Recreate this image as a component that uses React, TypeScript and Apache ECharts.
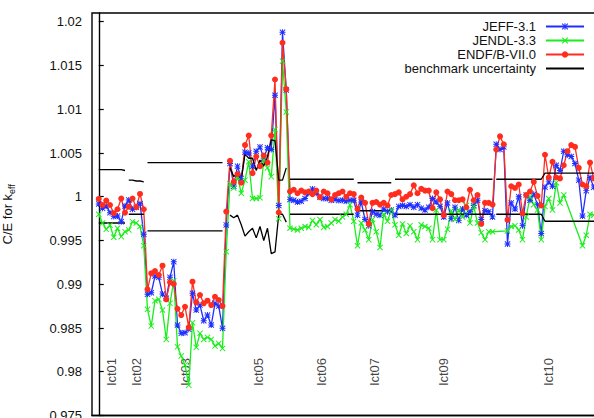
import React, { useEffect, useRef } from "react";
import * as echarts from "echarts";

// Case-by-case C/E values (index = benchmark case number along the x direction)
const jeff: (number | null)[] = [
  // lct01 / lct02
  0.99918, 0.99869, 0.99895, 0.99818, 0.99773, 0.99781, 0.99715, 0.99895, 0.99964, 0.99857, 0.9988, 0.9992, 0.99571,
  // lct03
  0.98885, 0.98903, 0.99094, 0.99079, 0.98888, 0.98839, 0.99079, 0.99258, 0.98534, 0.98439, 0.98446, 0.98485, 0.98896,
  0.98705, 0.98762, 0.98583, 0.98648, 0.98534, 0.98782, 0.98751, 0.98496,
  // single case
  0.99678,
  // lct05
  1.0038, 1.0012, 1.0035, 1.0021, 1.0051, 1.005, 1.0035, 1.0052, 1.0057, 1.0044, 1.0056, 1.0054, 1.0116, 0.999, 1.0188, 1.0122,
  // lct06
  0.9997, 0.9996, 0.9994, 0.9995, 0.9998, 1.0004, 1.0009, 1.0004, 0.99995, 0.9998, 0.9998, 0.9996, 0.9997, 0.99956, 0.9996,
  0.9995, 0.9996, 0.9996,
  // lct07
  0.9979, 0.9994, 0.9974, 0.9967, 0.9983, 0.998, 0.9979, 0.9986, 0.9983, 0.9985,
  // lct09
  0.9979, 0.9989, 0.999, 0.9989, 0.9991, 0.9988, 0.9991, 0.9987, 0.9985, 0.9988, 0.9998, 0.9994, 0.9989, 0.9977, 0.9993,
  0.9975, 0.9988, 0.9973, 0.9986, 0.9979, 0.9983, 0.999, 0.9996, 0.9974, 0.9984, 0.9983, 0.9977,
  // lct10
  1.006, 1.0054, 1.0057, 0.9946, 0.9993, 0.9986, 1.0, 0.9967, 1.0002, 0.9996, 1.0003, 0.9991, 0.9958, 1.0011, 1.0017, 1.0012,
  1.0036, 1.003, 1.0052, 1.0048, 1.0046, 1.0038, 1.0019, 0.9978, 1.0007, 1.0022, 1.0011, 1.0023,
];

const jendl: (number | null)[] = [
  0.998, 0.997, 0.99628, 0.99674, 0.99537, 0.9964, 0.99544, 0.99601, 0.99621, 0.99715, 0.997, 0.9966, 0.99441,
  0.98713, 0.98522, 0.98812, 0.98828, 0.98705, 0.9837, 0.98782, 0.9904, 0.98285, 0.98179, 0.98076, 0.97847, 0.9856,
  0.98279, 0.98439, 0.9837, 0.98393, 0.9837, 0.98293, 0.98324, 0.98267,
  0.99372,
  1.0015, 1.001, 1.0023, 1.0004, 1.0019, 1.004, 0.9998, 0.9998, 0.9999, 1.0042, 1.0033, 1.0023, 1.0077, 0.9975, 1.0155, 1.0097,
  0.9964, 0.9963, 0.9962, 0.9964, 0.9966, 0.9965, 0.9973, 0.9968, 0.9974, 0.9965, 0.9966, 0.997, 0.9974, 0.9972, 0.9977,
  0.998, 0.9991, 0.9972,
  0.9944, 0.997, 0.9962, 0.9951, 0.9974, 0.996, 0.9942, 0.998, 0.9972, 0.9985,
  0.9968, 0.9956, 0.9969, 0.9958, 0.9967, 0.996, 0.9951, 0.9968, 0.9966, 0.9964, 0.9951, 0.9985, 0.9951, 0.9951, 0.9963,
  0.9984, 0.9974, 0.9985, 0.9977, 0.999, 0.997, 0.9989, 0.997, 0.9959, 0.9951, 0.996, 0.996,
  null, null, null, 0.9961, 0.9966, 0.9967, 0.9962, 0.9951, 0.9977, 1.0, 0.9991, 0.9985, 0.9951, 0.9989, 0.9998, 0.9985,
  1.0016, 0.9993, 1.0002, null, null, null, null, 0.9944, 0.9956, 0.998, 0.9979, 0.9975,
];

const endf: (number | null)[] = [
  0.99975, 0.99906, 0.99956, 0.99906, 0.99812, 0.99857, 0.99979, 0.99818, 0.99887, 0.99979, 0.9988, 1.00032, 0.99857,
  0.98942, 0.99125, 0.99151, 0.99106, 0.99212, 0.98828, 0.99022, 0.99003, 0.9872, 0.98648, 0.98743, 0.98507, 0.99029,
  0.98793, 0.98877, 0.98782, 0.98812, 0.98762, 0.98857, 0.9882, 0.98751,
  0.9983,
  1.0041, 1.0017, 1.0026, 1.0016, 1.0059, 1.007, 1.0027, 1.0046, 1.0035, 1.0047, 1.0039, 1.007, 1.0134, 0.9982, 1.0176, 1.0123,
  1.0006, 1.0008, 1.0004, 1.0007, 1.0005, 1.0006, 1.0003, 1.0007, 0.99995, 1.0006, 1.0004, 0.9997, 1.0002, 1.0004, 1.0006,
  1.0, 1.0004, 1.0003,
  0.9986, 0.9999, 0.9993, 0.9969, 0.9993, 0.9994, 0.9991, 0.9993, 0.999, 1.0002,
  1.0003, 1.0005, 0.9997, 1.0, 1.0003, 1.0013, 1.0004, 1.0009, 1.0007, 1.0007, 0.9987, 1.0005, 0.9997, 0.9979, 1.0006,
  1.0003, 0.9996, 0.9996, 0.9997, 0.9988, 1.0008, 0.9996, 1.0002, 0.9969, 0.9993, 0.9993, 0.9991,
  1.0054, 1.0069, 1.006, 0.99735, 1.0012, 1.001, 1.0014, 0.9981, 1.0002, 1.0006, 1.0017, 1.0001, 0.999, 1.0048, 1.0022, 1.004,
  1.0022, 1.0021, 1.0036, 1.0052, 1.0059, 1.0057, 1.0033, 1.0014, 1.0012, 1.0039, 1.0021, 1.0029,
];

// benchmark uncertainty band (upper / lower edge) per case
const benchUpper: (number | null)[] = [
  1.0031, 1.0031, 1.0031, 1.0031, 1.0031, 1.0031, 1.0031, 1.003,
  1.0019, 1.0019, 1.0018, 1.0018, 1.0017,
  1.0039, 1.0039, 1.0039, 1.0039, 1.0039, 1.0039, 1.0039, 1.0039, 1.0039, 1.0039, 1.0039, 1.0039, 1.0039, 1.0039, 1.0039,
  1.0039, 1.0039, 1.0039, 1.0039, 1.0039, 1.0039,
  null,
  1.0033, 1.0023, 1.0027, 1.0019, 1.0049, 1.0044, 1.0044, 1.003, 1.0042, 1.0035, 1.0046, 1.0065, 1.0064, 1.0019, 1.0019, 1.0033,
  1.002, 1.002, 1.002, 1.002, 1.002, 1.002, 1.002, 1.002, 1.002, 1.002, 1.002, 1.002, 1.002, 1.002, 1.002, 1.002, 1.002, 1.002,
  1.0016, 1.0016, 1.0016, 1.0016, 1.0016, 1.0016, 1.0016, 1.0016, 1.0016, 1.0016,
  1.002, 1.002, 1.002, 1.002, 1.002, 1.002, 1.002, 1.002, 1.002, 1.002, 1.002, 1.002, 1.002, 1.002, 1.002, 1.002, 1.002, 1.002,
  1.002, 1.002, 1.002, 1.002, 1.002, 1.002, 1.002, 1.002, 1.002,
  1.002, 1.002, 1.002, 1.002, 1.002, 1.002, 1.002, 1.002, 1.002, 1.002, 1.002, 1.002, 1.002,
  1.0027, 1.0027, 1.0027, 1.0027, 1.0027, 1.0027, 1.0027, 1.0027, 1.0027, 1.0027, 1.0027, 1.0027, 1.0027, 1.0027, 1.0027,
];

const benchLower: (number | null)[] = [
  0.997, 0.997, 0.997, 0.997, 0.997, 0.997, 0.997, 0.997,
  0.998, 0.998, 0.998, 0.998, 0.998,
  0.9961, 0.9961, 0.9961, 0.9961, 0.9961, 0.9961, 0.9961, 0.9961, 0.9961, 0.9961, 0.9961, 0.9961, 0.9961, 0.9961, 0.9961,
  0.9961, 0.9961, 0.9961, 0.9961, 0.9961, 0.9961,
  null,
  0.9979, 0.9976, 0.9979, 0.9968, 0.9955, 0.996, 0.9964, 0.9953, 0.9966, 0.995, 0.9964, 0.9935, 0.9937, 0.998, 0.998, 0.9971,
  0.998, 0.998, 0.998, 0.998, 0.998, 0.998, 0.998, 0.998, 0.998, 0.998, 0.998, 0.998, 0.998, 0.998, 0.998, 0.998, 0.998, 0.998,
  0.9984, 0.9984, 0.9984, 0.9984, 0.9984, 0.9984, 0.9984, 0.9984, 0.9984, 0.9984,
  0.998, 0.998, 0.998, 0.998, 0.998, 0.998, 0.998, 0.998, 0.998, 0.998, 0.998, 0.998, 0.998, 0.998, 0.998, 0.998, 0.998, 0.998,
  0.998, 0.998, 0.998, 0.998, 0.998, 0.998, 0.998, 0.998, 0.998,
  0.998, 0.998, 0.998, 0.998, 0.998, 0.998, 0.998, 0.998, 0.998, 0.998, 0.998, 0.998, 0.998,
  0.9972, 0.9972, 0.9972, 0.9972, 0.9972, 0.9972, 0.9972, 0.9972, 0.9972, 0.9972, 0.9972, 0.9972, 0.9972, 0.9972, 0.9972,
];

// benchmark series groups (first / last case index)
const groupNames = ["lct01", "lct02", "lct03", "", "lct05", "lct06", "lct07", "lct09", "lct10"];
const groupStart = [0, 8, 13, 34, 35, 51, 69, 79, 106];
const groupEnd = [7, 12, 33, 34, 50, 68, 78, 105, 134];
const groupLabelLevel = 0.98;

const seriesNames = ["JEFF-3.1", "JENDL-3.3", "ENDF/B-VII.0", "benchmark uncertainty"];

const yTicksMin = 0.975;
const yTicksMax = 1.021;
const yTickStep = 0.005;

const FONT = "'Liberation Sans', Arial, Helvetica, sans-serif";
const BLUE = "#1f2fff";
const GREEN = "#1aee1a";
const RED = "#ff2d1e";

const asteriskPath =
  "path://M4.2,0H5.8V4.2H10V5.8H5.8V10H4.2V5.8H0V4.2H4.2Z M0,1.1L1.1,0L5,3.9L8.9,0L10,1.1L6.1,5L10,8.9L8.9,10L5,6.1L1.1,10L0,8.9L3.9,5Z";
const crossPath = "path://M0,1.1L1.1,0L5,3.9L8.9,0L10,1.1L6.1,5L10,8.9L8.9,10L5,6.1L1.1,10L0,8.9L3.9,5Z";

function toPoints(values: (number | null)[]) {
  return values.map((v, i) => [i, v]);
}

function bandPoints(values: (number | null)[]) {
  const pts: any[] = [];
  groupStart.forEach((s, g) => {
    for (let i = s; i <= groupEnd[g] && i < values.length; i++) pts.push([i, values[i]]);
    pts.push([groupEnd[g] + 0.5, null]);
  });
  return pts;
}

export default function App() {
  const ref = useRef<HTMLDivElement>(null);
  useEffect(() => {
    if (!ref.current) return;
    const chart = echarts.init(ref.current, undefined, { renderer: "svg" });
    const dataLine = (name: string, values: (number | null)[], color: string, symbol: string, size: number) => ({
      name,
      type: "line",
      data: toPoints(values),
      connectNulls: true,
      symbol,
      symbolSize: size,
      showAllSymbol: true,
      lineStyle: { color, width: 1.3 },
      itemStyle: { color, borderWidth: 0 },
      emphasis: { disabled: true },
    });
    const bandLine = (values: (number | null)[]) => ({
      name: seriesNames[3],
      type: "line",
      data: bandPoints(values),
      connectNulls: false,
      symbol: "none",
      lineStyle: { color: "#000", width: 1.3 },
      itemStyle: { color: "#000" },
      emphasis: { disabled: true },
    });
    const labelData = groupNames
      .map((n, g) => [(groupStart[g] + groupEnd[g]) / 2, groupLabelLevel, n])
      .filter((d) => d[2] !== "");
    chart.setOption({
      animation: false,
      backgroundColor: "#fff",
      textStyle: { fontFamily: FONT },
      grid: {
        left: 92,
        top: 13,
        width: 514.5,
        height: 402.5,
        containLabel: false,
        outerBoundsMode: "none",
        show: true,
        borderColor: "#000",
        borderWidth: 1.4,
        backgroundColor: "transparent",
      },
      legend: {
        data: [
          seriesNames[0],
          seriesNames[1],
          seriesNames[2],
          { name: seriesNames[3], itemStyle: { opacity: 0 } },
        ],
        orient: "vertical",
        right: 50,
        top: 15,
        align: "right",
        itemGap: 1,
        itemWidth: 38,
        itemHeight: 8,
        selectedMode: false,
        textStyle: { fontSize: 13, color: "#111", fontFamily: FONT, padding: [0, 5, 0, 0], lineHeight: 13 },
      },
      xAxis: {
        type: "value",
        min: -1.8,
        max: 135.4,
        axisLine: { show: true, lineStyle: { color: "#000", width: 1.4 } },
        axisTick: { show: false },
        axisLabel: { show: false },
        splitLine: { show: false },
      },
      yAxis: {
        type: "value",
        min: yTicksMin,
        max: yTicksMax,
        interval: yTickStep,
        name: "{a|C/E for k}{b|eff}",
        nameLocation: "middle",
        nameGap: 76,
        nameRotate: 90,
        nameTextStyle: {
          color: "#111",
          fontFamily: FONT,
          rich: {
            a: { fontSize: 13, fontFamily: FONT, color: "#111", lineHeight: 18, verticalAlign: "middle" },
            b: { fontSize: 9, fontFamily: FONT, color: "#111", lineHeight: 18, verticalAlign: "bottom" },
          },
        },
        axisLine: { show: true, lineStyle: { color: "#000", width: 1.4 } },
        axisTick: { show: true, inside: true, length: 5, lineStyle: { color: "#000", width: 1.2 } },
        axisLabel: {
          color: "#111",
          fontSize: 13,
          fontFamily: FONT,
          margin: 10,
          showMaxLabel: false,
          formatter: (v: number) => String(parseFloat(v.toFixed(3))),
        },
        splitLine: { show: false },
      },
      series: [
        dataLine(seriesNames[0], jeff, BLUE, asteriskPath, 6),
        dataLine(seriesNames[1], jendl, GREEN, crossPath, 6),
        dataLine(seriesNames[2], endf, RED, "circle", 6),
        bandLine(benchUpper),
        bandLine(benchLower),
        {
          name: "groups",
          type: "scatter",
          data: labelData,
          symbolSize: 0,
          silent: true,
          label: {
            show: true,
            position: "inside",
            rotate: 90,
            fontSize: 13,
            color: "#111",
            fontFamily: FONT,
            formatter: (p: any) => p.data[2],
          },
        },
      ],
    });
    return () => chart.dispose();
  }, []);
  return (
    <div style={{ position: "fixed", left: 0, top: 0, width: 594, height: 418, overflow: "hidden", background: "#fff" }}>
      <div ref={ref} style={{ width: 640, height: 418 }} />
    </div>
  );
}
